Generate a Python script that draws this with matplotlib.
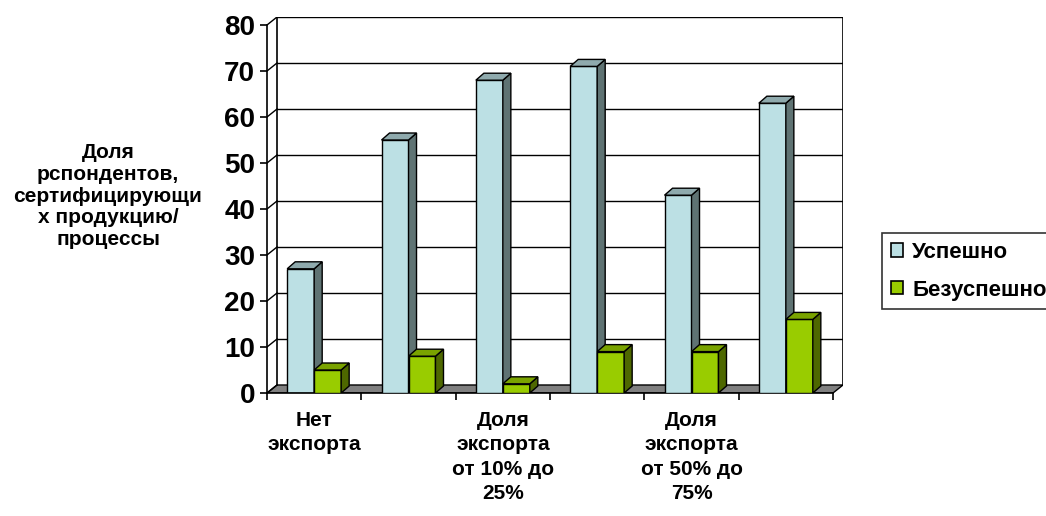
import matplotlib.pyplot as plt
from matplotlib.patches import Polygon, Patch
import numpy as np

plt.rcParams['font.family'] = ['Liberation Sans', 'DejaVu Sans']
plt.rcParams['font.weight'] = 'bold'

# данные
categories = ['Нет\nэкспорта', '', 'Доля\nэкспорта\nот 10% до\n25%', '',
              'Доля\nэкспорта\nот 50% до\n75%', '']
uspeshno = [27, 55, 68, 71, 43, 63]
bezuspeshno = [5, 8, 2, 9, 9, 16]
series = [('Успешно', uspeshno), ('Безуспешно', bezuspeshno)]
yticks = list(range(0, 81, 10))

# цвета граней: фронт, бок, верх
faces = {
    'Успешно': ('#bce0e4', '#5f7373', '#8faaad'),
    'Безуспешно': ('#99cc00', '#4e6800', '#7aa300'),
}

fig = plt.figure(figsize=(10.46, 5.16), dpi=100)
ax = fig.add_axes([267 / 1046, 1 - 393 / 516, 576 / 1046, 376 / 516])

n = len(categories)
wx, wy = 0.106, 1.74      # глубина стенок
bx, by = 0.085, 1.52      # глубина столбиков
bw = 0.286                # ширина столбика
ymax = yticks[-1]

ax.set_xlim(0, n + wx)
ax.set_ylim(0, ymax + wy)

# пол
ax.add_patch(Polygon([(0, 0), (n, 0), (n + wx, wy), (wx, wy)], closed=True,
                     facecolor='#808080', edgecolor='black', lw=1, zorder=1))
# задняя стенка и сетка
ax.plot([wx, wx, n + wx, n + wx], [wy, ymax + wy, ymax + wy, wy], color='black', lw=1.2, zorder=1)
for v in yticks[1:]:
    ax.plot([wx, n + wx], [v + wy, v + wy], color='black', lw=1, zorder=1)
for v in yticks:
    ax.plot([0, wx], [v, v + wy], color='black', lw=1, zorder=1)

# столбики
x = np.arange(n)
for i in range(n):
    for j, (name, vals) in enumerate(series):
        front, side, top = faces[name]
        x0 = x[i] + 0.5 - bw + j * bw
        h = vals[i]
        z = 2 + i * 2 + j
        ax.bar(x0, h, width=bw, align='edge', color=front, edgecolor='black', lw=1, zorder=z)
        ax.add_patch(Polygon([(x0 + bw, 0), (x0 + bw + bx, by), (x0 + bw + bx, h + by), (x0 + bw, h)],
                             closed=True, facecolor=side, edgecolor='black', lw=1, zorder=z))
        ax.add_patch(Polygon([(x0, h), (x0 + bw, h), (x0 + bw + bx, h + by), (x0 + bx, h + by)],
                             closed=True, facecolor=top, edgecolor='black', lw=1, zorder=z))

# оси
for s in ['top', 'right']:
    ax.spines[s].set_visible(False)
ax.spines['left'].set_bounds(0, ymax)
ax.spines['bottom'].set_bounds(0, n)
ax.spines['left'].set_linewidth(1.2)
ax.spines['bottom'].set_linewidth(1.2)
ax.spines['left'].set_zorder(0.5)

ax.set_yticks(yticks)
ax.set_yticklabels([str(v) for v in yticks], fontsize=20, fontweight='bold')
ax.tick_params(axis='y', direction='out', length=5, width=1.2, pad=3.5)

ax.set_xticks(np.arange(n + 1))
ax.set_xticklabels([])
ax.tick_params(axis='x', which='major', direction='out', length=5, width=1.2)
ax.set_xticks(x + 0.5, minor=True)
ax.set_xticklabels(categories, minor=True, fontsize=15, fontweight='bold', linespacing=1.36)
ax.tick_params(axis='x', which='minor', length=0, pad=13)

fig.text(108 / 1046, 1 - 196 / 516,
         'Доля\nрспондентов,\nсертифицирующи\nх продукцию/\nпроцессы',
         ha='center', va='center', fontsize=15, fontweight='bold', linespacing=1.17)

handles = [Patch(facecolor=faces[name][0], edgecolor='black', lw=1.2, label=name) for name, _ in series]
leg = fig.legend(handles=handles, loc='upper left', bbox_to_anchor=(882 / 1046, 1 - 233 / 516),
                 frameon=True, fancybox=False, edgecolor='black', fontsize=16,
                 handlelength=0.55, handleheight=0.55, handletextpad=0.4,
                 labelspacing=0.75, borderpad=0.4, borderaxespad=0)
leg.get_frame().set_linewidth(1.2)
for t in leg.get_texts():
    t.set_fontweight('bold')

fig.savefig('out.png', dpi=100)
